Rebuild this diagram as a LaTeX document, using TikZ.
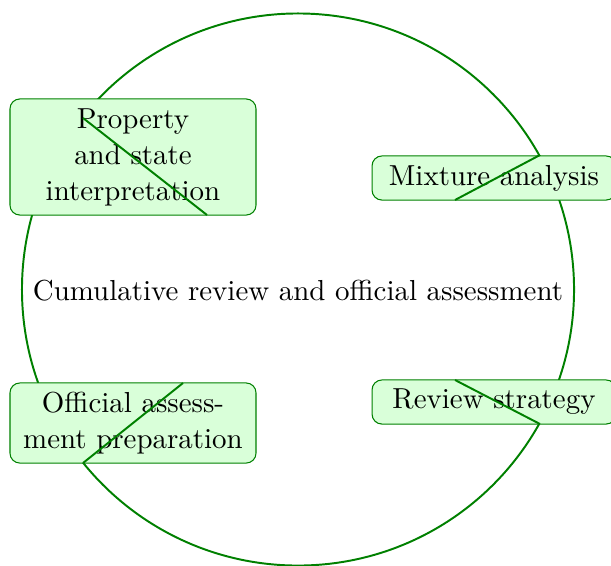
\documentclass[tikz,border=0pt]{standalone}
\begin{document}
\begin{tikzpicture}[x=0.3333pt,y=-0.3333pt,
  every node/.style={font=\fontsize{9.64}{12}\selectfont},
  ring/.style={draw=green!50!black,line width=0.65pt},
  box/.style={draw=green!50!black,line width=0.35pt,fill=green!15,rounded corners=3.3pt,align=center,inner sep=0pt}]
\useasboundingbox (0,0) rectangle (611,565);
\draw[ring] (298,289.5) circle[radius=92pt];
\node (center) at (298,291) {Cumulative review and official assessment};
\node[box,minimum width=82pt,minimum height=38.7pt] (prop) at (133,157) {Property\\and state\\interpretation};
\node[box,minimum width=81.3pt,minimum height=14.7pt] (mix) at (494,178) {Mixture analysis};
\node[box,minimum width=81.3pt,minimum height=14.7pt] (rev) at (494,402) {Review strategy};
\node[box,minimum width=82pt,minimum height=26.7pt] (off) at (133,423) {Official assess-\\ment preparation};
\coordinate (p1) at (83,118);
\coordinate (p2) at (207,215);
\coordinate (m1) at (540,155);
\coordinate (m2) at (455,200);
\coordinate (r1) at (455,380);
\coordinate (r2) at (540,424);
\coordinate (o1) at (83,463);
\coordinate (o2) at (183,383);
\draw[ring] (p1) -- (p2);
\draw[ring] (m1) -- (m2);
\draw[ring] (r1) -- (r2);
\draw[ring] (o1) -- (o2);
\end{tikzpicture}
\end{document}
